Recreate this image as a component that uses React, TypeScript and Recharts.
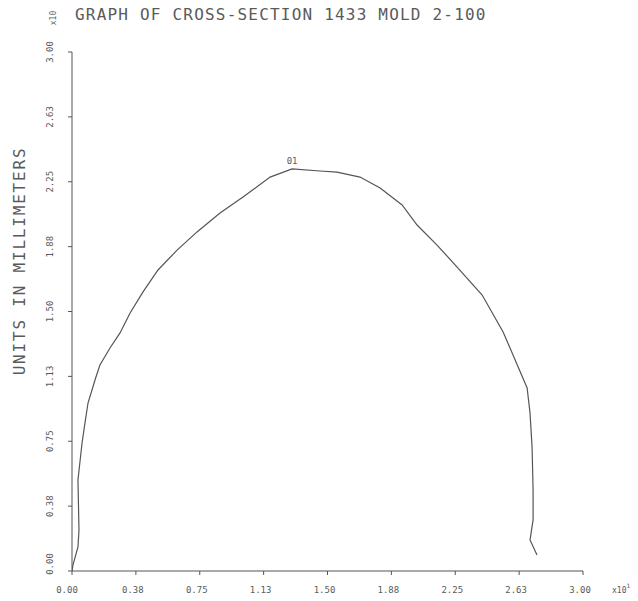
import React from "react";
import { LineChart, Line, XAxis, YAxis, ReferenceDot } from "recharts";

// cross-section outline (units x10 mm)
const outlineX = [
  0, 0.006, 0.035, 0.041, 0.035, 0.059, 0.076, 0.094, 0.135, 0.164, 0.223, 0.282,
  0.341, 0.417, 0.505, 0.617, 0.734, 0.869, 1.004, 1.163, 1.292, 1.456, 1.556,
  1.691, 1.809, 1.938, 2.026, 2.143, 2.261, 2.408, 2.531, 2.672, 2.689, 2.701,
  2.707, 2.707, 2.689, 2.73,
];
const outlineY = [
  0, 0.035, 0.139, 0.237, 0.526, 0.74, 0.855, 0.971, 1.104, 1.191, 1.289, 1.376,
  1.491, 1.613, 1.74, 1.855, 1.96, 2.069, 2.162, 2.277, 2.324, 2.312, 2.306,
  2.277, 2.214, 2.116, 2.0, 1.884, 1.757, 1.595, 1.382, 1.058, 0.913, 0.717,
  0.468, 0.295, 0.179, 0.092,
];
const pointLabel = "01";
const labelIndex = 20;

const axisTicks = [0, 0.375, 0.75, 1.125, 1.5, 1.875, 2.25, 2.625, 3];
const tickLabels = ["0.00", "0.38", "0.75", "1.13", "1.50", "1.88", "2.25", "2.63", "3.00"];

const title = "GRAPH OF CROSS-SECTION 1433 MOLD 2-100";
const yTitle = "UNITS IN MILLIMETERS";

const data = outlineX.map((x, i) => ({ x, y: outlineY[i] }));

const INK = "#5a5a5a";
const FONT = "'DejaVu Sans Mono', monospace";

const labelFor = (v: number) => tickLabels[axisTicks.indexOf(v)] ?? String(v);

function YTick({ y, payload }: any) {
  const shift = payload.value === 0 ? -7 : 0;
  return (
    <text
      transform={`translate(53,${y + shift}) rotate(-90)`}
      textAnchor="middle"
      fontSize={9}
      fill={INK}
      fontFamily={FONT}
    >
      {labelFor(payload.value)}
    </text>
  );
}

function XTick({ x, payload }: any) {
  const shift = payload.value === 0 ? -5 : -3;
  return (
    <text x={x + shift} y={593} textAnchor="middle" fontSize={9} fill={INK} fontFamily={FONT}>
      {labelFor(payload.value)}
    </text>
  );
}

export default function App() {
  const peak = data[labelIndex];
  return (
    <div style={{ position: "relative", width: 638, height: 601, background: "#fff" }}>
      <style>{`body{margin:0}`}</style>
      <LineChart width={638} height={601} data={data} margin={{ top: 52, right: 55, bottom: 0, left: 32 }}>
        <XAxis
          type="number"
          dataKey="x"
          domain={[0, 3]}
          ticks={axisTicks}
          tick={<XTick />}
          tickSize={4}
          height={30}
          stroke="#555"
          allowDataOverflow
        />
        <YAxis
          type="number"
          dataKey="y"
          domain={[0, 3]}
          ticks={axisTicks}
          tick={<YTick />}
          tickSize={4}
          width={40}
          stroke="#555"
          allowDataOverflow
        />
        <Line
          type="linear"
          dataKey="y"
          stroke="#555"
          strokeWidth={1.2}
          dot={false}
          isAnimationActive={false}
        />
        <ReferenceDot
          x={peak.x}
          y={peak.y}
          r={0}
          stroke="none"
          label={{ value: pointLabel, position: "top", fontSize: 9, fill: INK, fontFamily: FONT, offset: 5 }}
        />
      </LineChart>
      <svg width={638} height={601} style={{ position: "absolute", left: 0, top: 0, pointerEvents: "none" }}>
        <text x={75} y={20} fontSize={16} letterSpacing={1.2} fill={INK} fontFamily={FONT}>
          {title}
        </text>
        <text transform="translate(56,18) rotate(-90)" textAnchor="middle" fontSize={8} fill={INK} fontFamily={FONT}>
          x10
        </text>
        <text
          transform="translate(25,261) rotate(-90)"
          textAnchor="middle"
          fontSize={16}
          letterSpacing={1.8}
          fill={INK}
          fontFamily={FONT}
        >
          {yTitle}
        </text>
        <text x={612} y={593} fontSize={8} fill={INK} fontFamily={FONT}>
          x10
          <tspan dy={-5} fontSize={6}>1</tspan>
        </text>
      </svg>
    </div>
  );
}
